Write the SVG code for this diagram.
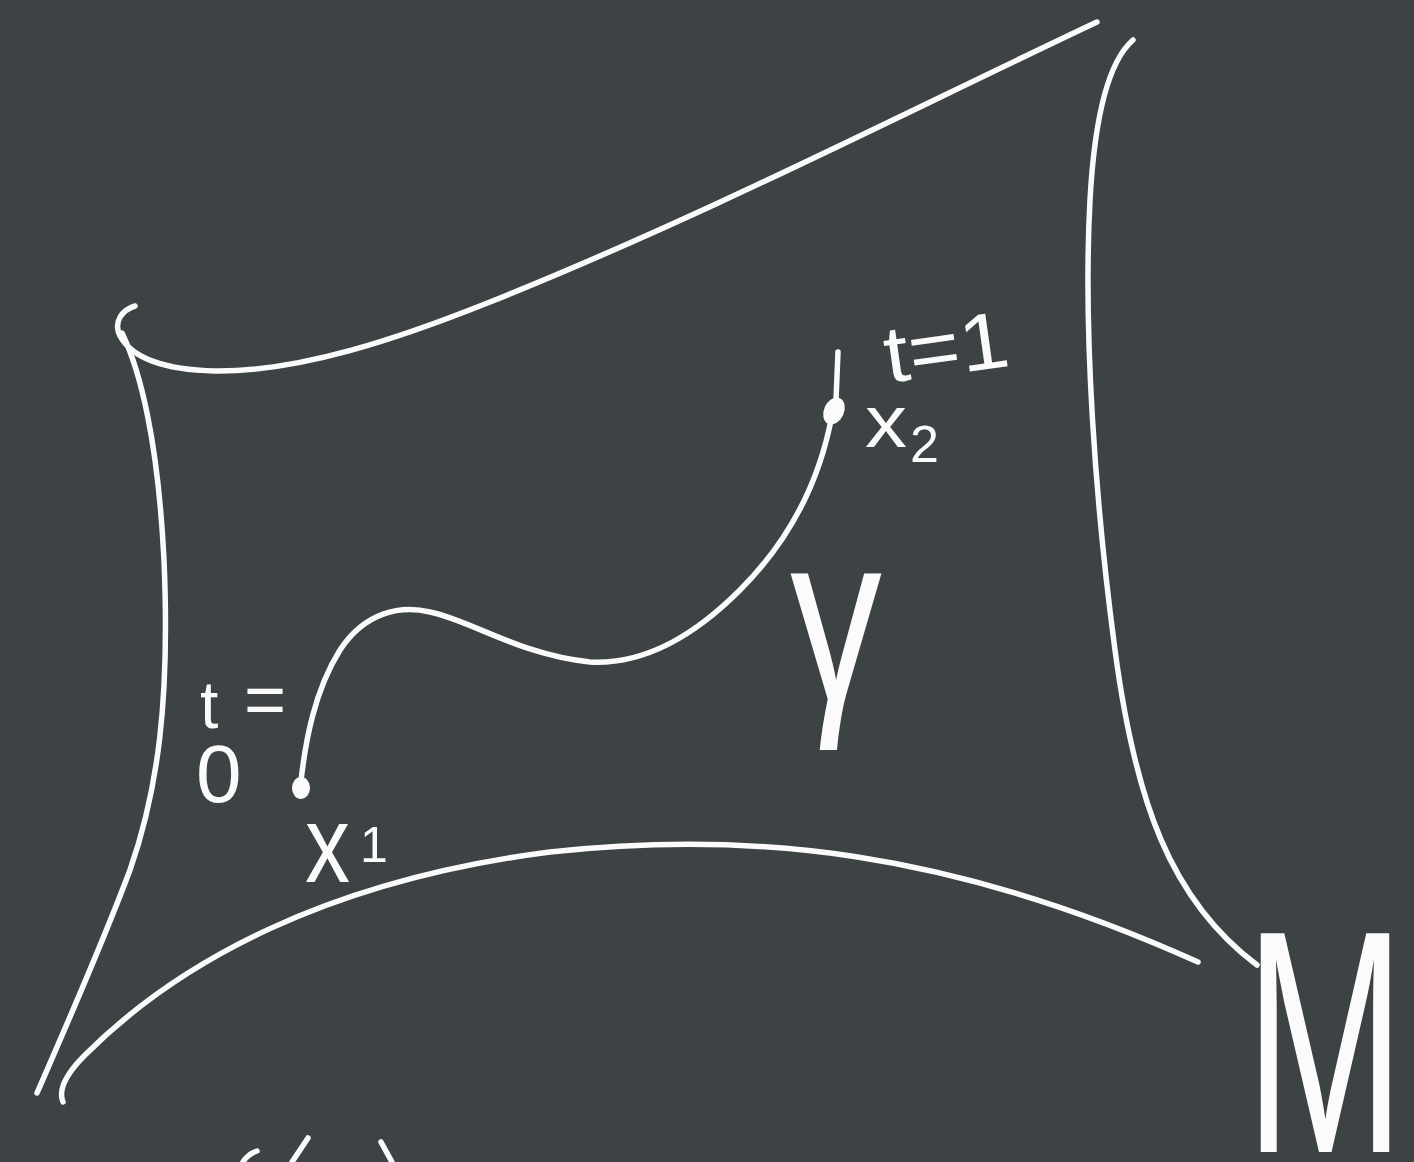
<svg xmlns="http://www.w3.org/2000/svg" width="1414" height="1162" viewBox="0 0 1414 1162">
<style>
.s{fill:none;stroke:#fbfbfb;stroke-width:5.5;stroke-linecap:round;stroke-linejoin:round}
.t{fill:#fbfbfb;font-family:"Liberation Sans",Arial,sans-serif}
</style>
<rect width="1414" height="1162" fill="#3d4245"/>
<g id="manifold">
<path class="s" d="M135,306 C122,310 113,322 120,336 C132,358 165,370 215,371 C300,372 400,338 490,302 C700,218 900,115 1097,22"/>
<path class="s" d="M122,333 C140,370 158,440 164,560 C170,700 158,790 130,870 C100,950 60,1040 37,1093"/>
<path class="s" d="M1133,40 C1110,60 1095,110 1090,200 C1083,330 1095,500 1115,650 C1135,800 1170,900 1257,965"/>
<path class="s" d="M63,1102 C58,1090 65,1075 85,1055 C180,960 330,880 550,852 C750,830 950,850 1198,962"/>
</g>
<g id="connectors">
<path id="gamma-curve" class="s" d="M300,790 C305,740 315,690 340,650 C365,612 400,605 430,612 C470,620 520,655 590,662 C650,665 700,630 740,590 C790,540 820,480 832,415"/>
<path class="s" d="M838,352 L836,400"/>
</g>
<g id="x1-point">
<ellipse cx="301" cy="788" rx="9" ry="11" fill="#fbfbfb"/>
<text class="t" x="305" y="882" font-size="110" textLength="45" lengthAdjust="spacingAndGlyphs">x</text>
<text class="t" x="360" y="862" font-size="50">1</text>
<text class="t"><tspan x="200" y="728" font-size="66">t</tspan><tspan x="244" y="724" font-size="72">=</tspan><tspan x="196" y="802" font-size="82">0</tspan></text>
</g>
<g id="x2-point">
<ellipse cx="834" cy="411" rx="10" ry="14" fill="#fbfbfb" transform="rotate(25 834 411)"/>
<text class="t" x="865" y="447" font-size="75" textLength="42" lengthAdjust="spacingAndGlyphs">x</text>
<text class="t" x="910" y="462" font-size="52">2</text>
<text class="t" x="888" y="383" font-size="80" textLength="125" lengthAdjust="spacingAndGlyphs" transform="rotate(-8 888 383)">t=1</text>
</g>
<g id="gamma-label">
<text class="t" x="790" y="700" font-size="240" textLength="92" lengthAdjust="spacingAndGlyphs">γ</text>
</g>
<g id="M-label">
<text class="t" x="1245" y="1152" font-size="318" textLength="160" lengthAdjust="spacingAndGlyphs">M</text>
</g>
<g id="bottom-fragments">
<path class="s" d="M243,1162 Q248,1154 257,1151"/>
<path class="s" d="M292,1162 L308,1138"/>
<path class="s" d="M381,1142 L392,1162"/>
</g>
</svg>
